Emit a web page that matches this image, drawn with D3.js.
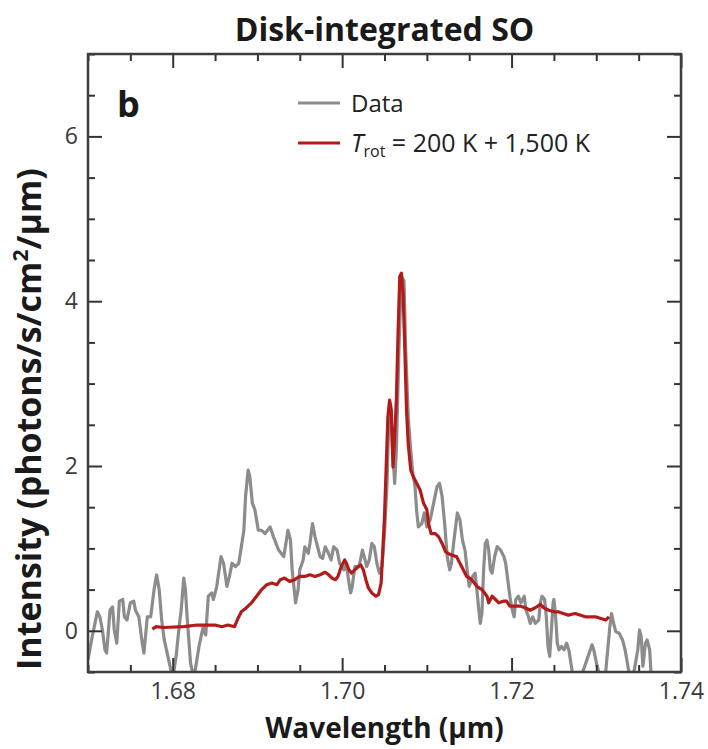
<!DOCTYPE html>
<html>
<head>
<meta charset="utf-8">
<script src="https://cdn.jsdelivr.net/npm/d3@7"></script>
<style>
    body { margin: 0; background: #fff; }
    #chart-area { width: 708px; height: 749px; }
    text { font-family: "Open Sans", "Noto Sans", sans-serif; }
</style>
</head>
<body>
<div id="chart-area"></div>
<script>

// gray observed spectrum (wavelength in um, intensity)
let dataWl = [1.6700,1.6705,1.6711,1.6714,1.6717,1.6720,1.6722,1.6726,1.6729,1.6731,1.6734,1.6737,1.6741,1.6743,1.6746,1.6750,1.6754,1.6756,1.6760,1.6764,1.6766,1.6770,1.6774,1.6778,1.6781,1.6784,1.6787,1.6790,1.6796,1.6800,1.6804,1.6808,1.6810,1.6813,1.6815,1.6817,1.6821,1.6825,1.6831,1.6836,1.6839,1.6842,1.6846,1.6848,1.6852,1.6857,1.6860,1.6864,1.6867,1.6870,1.6874,1.6878,1.6881,1.6884,1.6886,1.6889,1.6891,1.6894,1.6897,1.6901,1.6905,1.6909,1.6915,1.6919,1.6925,1.6931,1.6933,1.6936,1.6939,1.6941,1.6945,1.6948,1.6950,1.6954,1.6956,1.6960,1.6962,1.6965,1.6968,1.6971,1.6974,1.6977,1.6980,1.6983,1.6987,1.6990,1.6994,1.6997,1.7002,1.7005,1.7007,1.7010,1.7012,1.7015,1.7020,1.7024,1.7027,1.7029,1.7032,1.7035,1.7038,1.7041,1.7044,1.7047,1.7050,1.7053,1.7055,1.7057,1.7059,1.7062,1.7064,1.7067,1.7070,1.7073,1.7075,1.7078,1.7081,1.7083,1.7086,1.7088,1.7090,1.7094,1.7097,1.7100,1.7104,1.7108,1.7112,1.7115,1.7118,1.7121,1.7124,1.7127,1.7129,1.7132,1.7136,1.7139,1.7142,1.7145,1.7148,1.7150,1.7154,1.7157,1.7159,1.7161,1.7163,1.7165,1.7167,1.7169,1.7171,1.7173,1.7175,1.7177,1.7180,1.7183,1.7187,1.7191,1.7193,1.7195,1.7198,1.7200,1.7203,1.7205,1.7208,1.7211,1.7215,1.7217,1.7220,1.7222,1.7225,1.7228,1.7232,1.7234,1.7236,1.7239,1.7241,1.7243,1.7245,1.7247,1.7249,1.7250,1.7252,1.7254,1.7256,1.7259,1.7262,1.7265,1.7268,1.7270,1.7273,1.7280,1.7285,1.7289,1.7295,1.7297,1.7301,1.7305,1.7311,1.7316,1.7318,1.7320,1.7323,1.7327,1.7331,1.7334,1.7338,1.7341,1.7345,1.7349,1.7351,1.7353,1.7355,1.7358,1.7360,1.7363,1.7365];
let dataInt = [-0.35,-0.07,0.23,0.17,0.01,-0.23,-0.27,0.25,0.29,0.01,-0.15,0.36,0.38,0.17,0.13,0.34,0.36,0.25,0.17,-0.15,-0.27,0.17,0.17,0.50,0.68,0.50,0.13,-0.11,-0.39,-0.58,-0.31,0.09,0.25,0.64,0.50,0.17,-0.39,-0.58,-0.19,0.05,-0.05,0.42,0.46,0.38,0.54,0.90,0.82,0.54,0.66,0.82,0.78,0.82,1.02,1.22,1.63,1.95,1.87,1.55,1.47,1.22,1.22,1.18,1.26,1.14,0.98,0.90,1.02,1.22,1.10,0.74,0.34,0.50,0.74,0.86,1.02,0.94,1.06,1.30,1.14,1.02,0.90,0.88,1.02,0.96,0.86,1.02,0.98,0.82,0.74,0.82,0.66,0.46,0.54,0.78,0.78,0.98,0.86,0.78,0.86,1.06,1.02,0.82,0.70,0.78,1.18,1.79,2.55,2.75,2.30,1.79,2.19,3.41,4.30,4.25,3.41,2.60,2.19,1.95,1.75,1.45,1.26,1.30,1.43,1.26,1.35,1.55,1.75,1.79,1.63,1.30,0.90,0.74,0.82,1.10,1.43,1.35,1.10,0.98,0.70,0.54,0.66,0.70,0.50,0.29,0.09,0.21,0.74,1.06,1.10,0.98,0.74,0.70,0.90,1.02,0.98,0.90,0.82,0.66,0.42,0.29,0.17,0.38,0.42,0.34,0.42,0.25,0.17,0.09,0.17,0.09,0.13,0.34,0.42,0.38,0.17,-0.19,-0.31,0.01,0.34,0.38,0.17,-0.15,-0.23,-0.19,-0.23,-0.15,-0.25,-0.39,-0.58,-0.58,-0.47,-0.35,-0.17,-0.23,-0.43,-0.58,-0.51,0.05,0.21,0.11,-0.01,-0.03,-0.11,-0.23,-0.47,-0.58,-0.47,-0.23,0.01,-0.07,-0.43,-0.15,-0.11,-0.23,-0.58];

// red model spectrum, Trot = 200 K + 1,500 K
let modelWl = [1.6776,1.6780,1.6789,1.6813,1.6829,1.6838,1.6850,1.6858,1.6865,1.6873,1.6877,1.6881,1.6887,1.6893,1.6899,1.6905,1.6911,1.6917,1.6923,1.6927,1.6932,1.6938,1.6944,1.6950,1.6956,1.6962,1.6968,1.6974,1.6980,1.6984,1.6988,1.6992,1.6995,1.6999,1.7003,1.7005,1.7008,1.7011,1.7015,1.7019,1.7022,1.7025,1.7028,1.7031,1.7035,1.7040,1.7043,1.7046,1.7047,1.7050,1.7052,1.7054,1.7056,1.7058,1.7060,1.7062,1.7064,1.7066,1.7068,1.7070,1.7072,1.7074,1.7076,1.7078,1.7081,1.7084,1.7088,1.7092,1.7096,1.7100,1.7102,1.7105,1.7110,1.7114,1.7118,1.7122,1.7125,1.7129,1.7135,1.7141,1.7147,1.7153,1.7159,1.7165,1.7171,1.7173,1.7177,1.7181,1.7185,1.7190,1.7194,1.7198,1.7204,1.7210,1.7216,1.7222,1.7228,1.7234,1.7238,1.7244,1.7250,1.7255,1.7261,1.7267,1.7275,1.7287,1.7299,1.7311,1.7315];
let modelInt = [0.02,0.05,0.04,0.05,0.07,0.07,0.07,0.05,0.07,0.05,0.15,0.23,0.28,0.34,0.42,0.50,0.56,0.58,0.56,0.62,0.64,0.60,0.62,0.66,0.66,0.68,0.66,0.68,0.71,0.68,0.64,0.62,0.66,0.78,0.86,0.82,0.74,0.70,0.74,0.78,0.80,0.74,0.62,0.52,0.46,0.42,0.44,0.58,0.78,1.39,1.99,2.60,2.80,2.68,1.99,2.36,2.80,3.61,4.30,4.34,4.09,3.41,2.68,2.27,1.95,1.87,1.79,1.71,1.55,1.47,1.30,1.18,1.18,1.14,1.06,0.96,0.94,0.92,0.90,0.78,0.66,0.62,0.54,0.50,0.42,0.34,0.42,0.38,0.34,0.36,0.36,0.30,0.30,0.30,0.28,0.25,0.28,0.32,0.28,0.25,0.23,0.23,0.21,0.19,0.21,0.17,0.17,0.13,0.17];

// axis ticks and text
let xDomain = [1.67, 1.74];
let yDomain = [-0.5, 7];
let xTicks = [1.68, 1.70, 1.72, 1.74];
let yTicks = [0, 2, 4, 6];
let titleText = "Disk-integrated SO";
let xTitle = "Wavelength (\u03bcm)";
let panelLabel = "b";


class SpectrumVis {
    constructor(parentElement) {
        this.parentElement = parentElement;
        this.initVis();
    }

    initVis() {
        let vis = this;

        vis.margin = {top: 54, right: 27, bottom: 77, left: 88};
        vis.width = 708 - vis.margin.left - vis.margin.right;
        vis.height = 749 - vis.margin.top - vis.margin.bottom;

        vis.svg = d3.select("#" + vis.parentElement).append("svg")
            .attr("width", 708)
            .attr("height", 749);

        vis.g = vis.svg.append("g")
            .attr("transform", `translate(${vis.margin.left},${vis.margin.top})`);

        vis.x = d3.scaleLinear().domain(xDomain).range([0, vis.width]);
        vis.y = d3.scaleLinear().domain(yDomain).range([vis.height, 0]);

        // clip so the noisy data does not run past the frame
        vis.svg.append("defs").append("clipPath").attr("id", "plot-clip")
            .append("rect")
            .attr("width", vis.width)
            .attr("height", vis.height);

        vis.wrangleData();
    }

    wrangleData() {
        let vis = this;
        vis.dataPts = dataWl.map((w, i) => ({x: w, y: dataInt[i]}));
        vis.modelPts = modelWl.map((w, i) => ({x: w, y: modelInt[i]}));
        vis.updateVis();
    }

    updateVis() {
        let vis = this;

        let line = d3.line()
            .x(d => vis.x(d.x))
            .y(d => vis.y(d.y));

        let lines = vis.g.append("g").attr("clip-path", "url(#plot-clip)");

        lines.append("path")
            .datum(vis.dataPts)
            .attr("d", line)
            .attr("fill", "none")
            .attr("stroke", "#8c8c8c")
            .attr("stroke-width", 3.2)
            .attr("stroke-linejoin", "round");

        lines.append("path")
            .datum(vis.modelPts)
            .attr("d", line)
            .attr("fill", "none")
            .attr("stroke", "#b31b1b")
            .attr("stroke-width", 3.2)
            .attr("stroke-linejoin", "round");

        // minor ticks every 0.005 um / 0.5 units
        let xMinor = d3.range(1.67, 1.7401, 0.005).filter(v => !xTicks.some(t => Math.abs(t - v) < 1e-6));
        let yMinor = d3.range(-0.5, 7.01, 0.5).filter(v => !yTicks.some(t => Math.abs(t - v) < 1e-6));

        let axes = [
            {gen: d3.axisBottom, scale: vis.x, pos: `translate(0,${vis.height})`, major: xTicks, minor: xMinor, labels: true},
            {gen: d3.axisTop, scale: vis.x, pos: "translate(0,0)", major: xTicks, minor: xMinor, labels: false},
            {gen: d3.axisLeft, scale: vis.y, pos: "translate(0,0)", major: yTicks, minor: yMinor, labels: true},
            {gen: d3.axisRight, scale: vis.y, pos: `translate(${vis.width},0)`, major: yTicks, minor: yMinor, labels: false}
        ];

        axes.forEach(a => {
            let fmt = a.scale === vis.x ? d3.format(".2f") : d3.format("d");
            let major = vis.g.append("g")
                .attr("transform", a.pos)
                .call(a.gen(a.scale).tickValues(a.major).tickSize(-14).tickPadding(a.scale === vis.x ? 11 : 10)
                    .tickFormat(a.labels ? fmt : ""));
            let minor = vis.g.append("g")
                .attr("transform", a.pos)
                .call(a.gen(a.scale).tickValues(a.minor).tickSize(-7).tickFormat(""));

            [major, minor].forEach(s => {
                s.select(".domain").remove();
                s.selectAll("line").attr("stroke", "#333").attr("stroke-width", 2);
            });
            major.selectAll("text")
                .attr("fill", "#3a3a3a")
                .style("font-size", "23px");
        });

        // frame
        vis.g.append("rect")
            .attr("width", vis.width)
            .attr("height", vis.height)
            .attr("fill", "none")
            .attr("stroke", "#3d3d3d")
            .attr("stroke-width", 2.5);

        // titles
        vis.svg.append("text")
            .attr("x", vis.margin.left + vis.width / 2)
            .attr("y", 41)
            .attr("text-anchor", "middle")
            .attr("font-weight", "bold")
            .attr("font-size", 32)
            .attr("fill", "#1a1a1a")
            .text(titleText);

        vis.svg.append("text")
            .attr("x", vis.margin.left + vis.width / 2)
            .attr("y", 738)
            .attr("text-anchor", "middle")
            .attr("font-weight", "bold")
            .attr("font-size", 28)
            .attr("fill", "#1a1a1a")
            .text(xTitle);

        let yt = vis.svg.append("text")
            .attr("transform", "translate(41,419) rotate(-90)")
            .attr("text-anchor", "middle")
            .attr("font-weight", "bold")
            .attr("font-size", 34)
            .attr("fill", "#1a1a1a");
        yt.append("tspan").text("Intensity (photons/s/cm");
        yt.append("tspan").attr("font-size", 21).attr("dy", -13).text("2");
        yt.append("tspan").attr("dy", 13).text("/\u03bcm)");

        // panel letter
        vis.g.append("text")
            .attr("x", 29)
            .attr("y", 63)
            .attr("font-weight", "bold")
            .attr("font-size", 36)
            .attr("fill", "#1a1a1a")
            .text(panelLabel);

        // legend
        let legend = vis.g.append("g").attr("transform", "translate(210,49)");
        legend.append("line")
            .attr("x1", 0).attr("x2", 42)
            .attr("stroke", "#8c8c8c").attr("stroke-width", 3);
        legend.append("text")
            .attr("x", 53).attr("y", 9)
            .attr("font-size", 24).attr("fill", "#222")
            .text("Data");

        legend.append("line")
            .attr("x1", 0).attr("x2", 42)
            .attr("y1", 40).attr("y2", 40)
            .attr("stroke", "#b31b1b").attr("stroke-width", 3);
        let lt = legend.append("text")
            .attr("x", 53).attr("y", 49)
            .attr("font-size", 25).attr("fill", "#222");
        lt.append("tspan").attr("font-style", "italic").text("T");
        lt.append("tspan").attr("font-size", 16).attr("dy", 5).text("rot");
        lt.append("tspan").attr("dy", -5).text(" = 200 K + 1,500 K");
    }
}

new SpectrumVis("chart-area");
</script>
</body>
</html>
